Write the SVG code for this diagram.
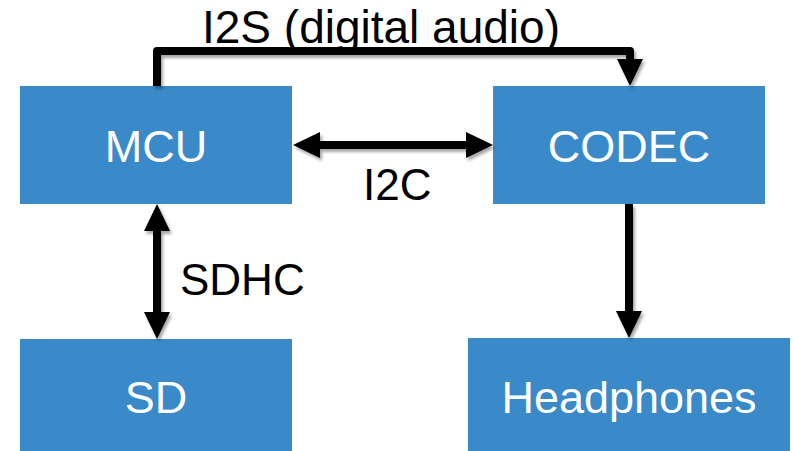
<svg xmlns="http://www.w3.org/2000/svg" width="793" height="451" viewBox="0 0 793 451">
<defs>
<style>
.box{fill:#3A89C9}
.lbl{font-family:"Liberation Sans",Arial,sans-serif;font-size:45px;fill:#ffffff;text-anchor:middle}
.elbl{font-family:"Liberation Sans",Arial,sans-serif;font-size:44px;fill:#000000}
.wire{fill:none;stroke:#000;stroke-width:8;stroke-linejoin:round}
</style>
<marker id="ah" markerUnits="userSpaceOnUse" markerWidth="27" markerHeight="26" refX="2" refY="13" orient="auto-start-reverse" viewBox="0 0 27 26">
<path d="M0,0 L27,13 L0,26 z" fill="#000"/>
</marker>
<filter id="sh" x="-10%" y="-10%" width="130%" height="130%">
<feDropShadow dx="2" dy="3" stdDeviation="1.5" flood-color="#000" flood-opacity="0.35"/>
</filter>
</defs>
<rect width="793" height="451" fill="#fff"/>
<g id="mcu"><rect class="box" x="20" y="86" width="272" height="118"/><text class="lbl" x="156" y="162">MCU</text></g>
<g id="codec"><rect class="box" x="493" y="86" width="272" height="118"/><text class="lbl" x="629" y="162">CODEC</text></g>
<g id="sd"><rect class="box" x="20" y="339" width="272" height="112"/><text class="lbl" x="156" y="413">SD</text></g>
<g id="headphones"><rect class="box" x="468" y="338" width="322" height="113"/><text class="lbl" x="629" y="413">Headphones</text></g>
<g id="connectors" filter="url(#sh)">
<path class="wire" d="M157,86 V51 H630 V61" marker-end="url(#ah)"/>
<path class="wire" d="M318,145 H468" marker-start="url(#ah)" marker-end="url(#ah)"/>
<path class="wire" d="M157,229 V314" marker-start="url(#ah)" marker-end="url(#ah)"/>
<path class="wire" d="M629,204 V313" marker-end="url(#ah)"/>
</g>
<g id="labels">
<text class="elbl" x="202" y="43" style="font-size:46px">I2S (digital audio)</text>
<text class="elbl" x="363" y="200">I2C</text>
<text class="elbl" x="180" y="295">SDHC</text>
</g>
</svg>
